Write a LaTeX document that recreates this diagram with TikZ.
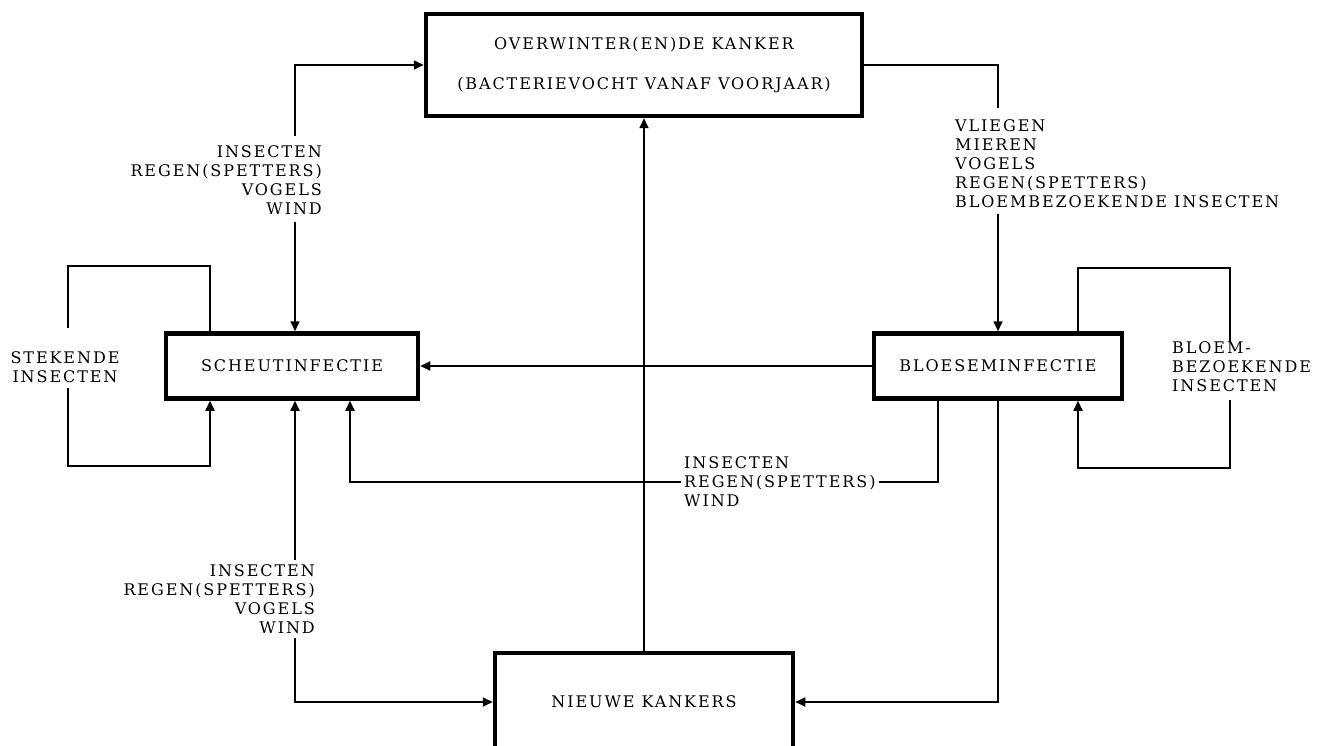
\documentclass[tikz,border=0pt]{standalone}
\usepackage{fontspec}
\setmainfont{DejaVu Serif}[LetterSpace=12]
\usetikzlibrary{arrows.meta}

\begin{document}
\begin{tikzpicture}[x=1pt, y=-1pt, >={Triangle[length=10pt,width=9pt]},
    box/.style={draw, line width=4.5pt, minimum height=65pt, inner sep=0pt, font=\fontsize{16}{19}\selectfont},
    txt/.style={inner sep=3pt, font=\fontsize{16}{19}\selectfont},
    link/.style={line width=1.7pt}]
    \useasboundingbox (0,0) rectangle (1319,746);

    \node[box, minimum width=436pt, minimum height=102pt, align=center] (overwinter) at (644,65) {OVERWINTER(EN)DE KANKER\\[21pt](BACTERIEVOCHT VANAF VOORJAAR)};
    \node[box, minimum width=252pt] (scheut) at (292,366) {SCHEUTINFECTIE};
    \node[box, minimum width=248pt] (bloesem) at (998,366) {BLOESEMINFECTIE};
    \node[box, minimum width=298pt, minimum height=98pt] (nieuwe) at (644,702) {NIEUWE KANKERS};

    \node[txt, align=right, anchor=east] (wegScheut) at (325,180) {INSECTEN\\REGEN(SPETTERS)\\VOGELS\\WIND};
    \node[txt, align=left, anchor=west] (wegBloesem) at (952,164) {VLIEGEN\\MIEREN\\VOGELS\\REGEN(SPETTERS)\\BLOEMBEZOEKENDE INSECTEN};
    \node[txt, align=left, anchor=west] (wegTerug) at (681,482) {INSECTEN\\REGEN(SPETTERS)\\WIND};
    \node[txt, align=right, anchor=east] (wegNieuw) at (318,599) {INSECTEN\\REGEN(SPETTERS)\\VOGELS\\WIND};
    \node[txt, align=center] (stekend) at (65,367) {STEKENDE\\INSECTEN};
    \node[txt, align=left, anchor=west] (bloembez) at (1169,367) {BLOEM-\\BEZOEKENDE\\INSECTEN};

    \coordinate (a1) at (295,136);
    \coordinate (a2) at (295,222);
    \coordinate (b1) at (998,108);
    \coordinate (b2) at (998,214);
    \coordinate (s1) at (68,328);
    \coordinate (s2) at (68,388);
    \coordinate (r1) at (1230,342);
    \coordinate (r2) at (1230,400);
    \coordinate (n1) at (295,560);
    \coordinate (n2) at (295,638);

    % overwinter <-> scheut
    \draw[link,->] (a1) |- (overwinter.west);
    \draw[link,->] (a2) -- (a2 |- scheut.north);
    % overwinter -> bloesem
    \draw[link] (overwinter.east) -| (b1);
    \draw[link,->] (b2) -- (bloesem.north);
    % loops
    \draw[link] ([xshift=-82pt]scheut.north) -- ++(0,-65) -| (s1);
    \draw[link,->] (s2) |- ([xshift=-82pt,yshift=-65pt]scheut.south) -- ([xshift=-82pt]scheut.south);
    \draw[link] ([xshift=80pt]bloesem.north) -- ++(0,-63) -| (r1);
    \draw[link,->] (r2) |- ([xshift=80pt,yshift=-67pt]bloesem.south) -- ([xshift=80pt]bloesem.south);
    % bloesem -> scheut
    \draw[link,->] (bloesem.west) -- (scheut.east);
    \draw[link] ([xshift=-60pt]bloesem.south) |- (wegTerug.east);
    \draw[link,->] (wegTerug.west) -| ([xshift=58pt]scheut.south);
    % nieuwe
    \draw[link,->] (nieuwe.north) -- (overwinter.south);
    \draw[link,->] (n1) -- (n1 |- scheut.south);
    \draw[link,->] (n2) |- (nieuwe.west);
    \draw[link,->] (bloesem.south) |- (nieuwe.east);
\end{tikzpicture}
\end{document}
